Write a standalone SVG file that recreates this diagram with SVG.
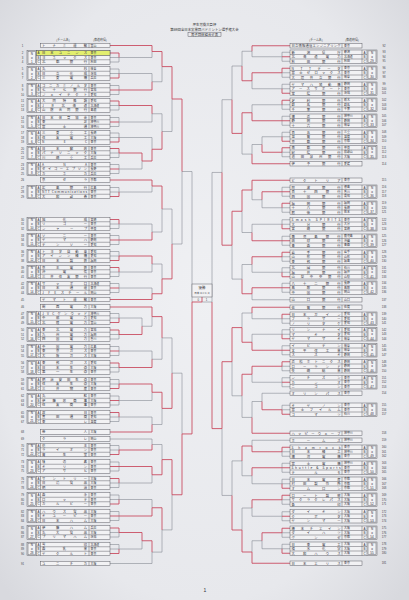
<svg xmlns="http://www.w3.org/2000/svg" xmlns:xlink="http://www.w3.org/1999/xlink" width="409" height="600" viewBox="0 0 409 600">
<defs>
<radialGradient id="paper" cx="50%" cy="48%" r="70%">
<stop offset="0" stop-color="#eff0f3"/><stop offset="0.75" stop-color="#e7e8ec"/><stop offset="1" stop-color="#d8d9de"/>
</radialGradient>
<style>
.b{fill:#f2f2f4;stroke:#4e4f57;stroke-width:.45}
.bl{fill:none;stroke:#4e4f57;stroke-width:.45}
.t{font-family:"Noto Sans CJK JP","Noto Sans",sans-serif;font-size:3.3px;fill:#33333d}
.p{font-family:"Noto Sans CJK JP",sans-serif;font-size:2.9px;fill:#33333d}
.n{font-family:"Liberation Sans",sans-serif;font-size:2.8px;fill:#45454d;text-anchor:middle}
.k{font-family:"Liberation Sans",sans-serif;font-size:3px;fill:#33333d;text-anchor:middle}
.h{font-family:"Noto Sans CJK JP",sans-serif;font-size:3.4px;fill:#333;text-anchor:middle}
.hs{font-family:"Noto Sans CJK JP",sans-serif;font-size:2.9px;fill:#444;text-anchor:middle}
.r{fill:none;stroke:#c7455a;stroke-width:.85}
.g{fill:none;stroke:#7d838c;stroke-width:.55}
</style>
<g id="lg">
<rect class="b" x="27" y="0" width="83" height="13.5"/>
<rect class="b" x="28" y="0.9" width="7.6" height="11.7"/>
<path class="bl" d="M36.5 0V13.5M40.5 0V13.5M36.5 4.5H110M36.5 9H110M89 0V13.5"/>
<text class="k" x="38.5" y="3.5">A</text><text class="k" x="38.5" y="8">B</text><text class="k" x="38.5" y="12.5">C</text>
<text class="k" x="31.8" y="4">N</text><text class="k" x="31.8" y="7.9">o</text>
</g>
<g id="ls"><rect class="b" x="40.5" y="0" width="69.5" height="4.5"/><path class="bl" d="M89 0V4.5"/></g>
<g id="rg">
<rect class="b" x="290" y="0" width="87" height="13.5"/>
<rect class="b" x="368" y="0.9" width="8" height="11.7"/>
<path class="bl" d="M362 0V13.5M367 0V13.5M290 4.5H367M290 9H367M342 0V13.5"/>
<text class="k" x="364.5" y="3.5">A</text><text class="k" x="364.5" y="8">B</text><text class="k" x="364.5" y="12.5">C</text>
<text class="k" x="372" y="4">N</text><text class="k" x="372" y="7.9">o</text>
</g>
<g id="rs"><rect class="b" x="290" y="0" width="72" height="4.5"/><path class="bl" d="M342 0V4.5"/></g>
<g id="lbA"><path class="g" d="M110 6.75H119M110 11.25H119V6.75"/><path class="r" d="M110 2.25H119V6.75"/></g>
<g id="lbB"><path class="g" d="M110 2.25H119V11.25H110"/><path class="r" d="M110 6.75H119"/></g>
<g id="lbC"><path class="g" d="M110 2.25H119V6.75M110 6.75H119"/><path class="r" d="M110 11.25H119V6.75"/></g>
<g id="rbA"><path class="g" d="M290 6.75H282M290 11.25H282V6.75"/><path class="r" d="M290 2.25H282V6.75"/></g>
<g id="rbB"><path class="g" d="M290 2.25H282V11.25H290"/><path class="r" d="M290 6.75H282"/></g>
<g id="rbC"><path class="g" d="M290 2.25H282V6.75M290 6.75H282"/><path class="r" d="M290 11.25H282V6.75"/></g>
</defs>
<rect x="0" y="0" width="409" height="600" fill="url(#paper)"/>

<g id="title">
<text class="h" x="204.5" y="25.5">厚生労働大臣杯</text>
<text class="h" x="204.5" y="30.5">第69回全日本実業団バドミントン選手権大会</text>
<rect class="bl" x="188" y="32.2" width="33" height="4.4"/>
<text class="h" x="204.5" y="35.6">男子団体組合せ表</text>
<text class="hs" x="63" y="40.5">(チーム名)</text><text class="hs" x="100" y="40.5">(都道府県)</text>
<text class="hs" x="316" y="40.5">(チーム名)</text><text class="hs" x="352" y="40.5">(都道府県)</text>
</g>

<g id="connectors">
<use href="#lbA" y="50.75"/><use href="#lbC" y="66.75"/><use href="#lbB" y="83.25"/><use href="#lbA" y="98.75"/><use href="#lbB" y="115.25"/><use href="#lbC" y="130.75"/><use href="#lbA" y="146.25"/><use href="#lbB" y="162.25"/><use href="#lbC" y="185.25"/><use href="#lbA" y="217.25"/><use href="#lbB" y="233.25"/><use href="#lbC" y="249.25"/><use href="#lbA" y="265.25"/><use href="#lbB" y="281.25"/><use href="#lbC" y="311.25"/><use href="#lbA" y="327.75"/><use href="#lbB" y="344.25"/><use href="#lbA" y="360.75"/><use href="#lbC" y="377.25"/><use href="#lbB" y="393.75"/><use href="#lbA" y="410.25"/><use href="#lbC" y="443.25"/><use href="#lbB" y="459.75"/><use href="#lbA" y="476.25"/><use href="#lbC" y="492.75"/><use href="#lbB" y="509.25"/><use href="#lbA" y="525.75"/><use href="#lbC" y="542.25"/>
<use href="#rbB" y="50"/><use href="#rbA" y="66"/><use href="#rbC" y="82"/><use href="#rbA" y="98"/><use href="#rbB" y="114"/><use href="#rbC" y="130"/><use href="#rbA" y="145.5"/><use href="#rbB" y="185"/><use href="#rbA" y="201"/><use href="#rbC" y="217.5"/><use href="#rbB" y="234"/><use href="#rbA" y="250"/><use href="#rbC" y="265.5"/><use href="#rbB" y="281"/><use href="#rbA" y="312"/><use href="#rbC" y="327.5"/><use href="#rbB" y="343.5"/><use href="#rbA" y="359.5"/><use href="#rbB" y="375.5"/><use href="#rbC" y="403"/><use href="#rbA" y="445"/><use href="#rbB" y="461"/><use href="#rbC" y="477"/><use href="#rbA" y="493"/><use href="#rbB" y="509.5"/><use href="#rbA" y="526"/><use href="#rbC" y="542"/>
<path class="g" d="M119 169H142V161M119 57.5H152V51.5M119 73.5H152V81.75M119 122H152V113.75M119 137.5H152V149.25M152 81.75H162V66.6M152 113.75H162V131.5M162 131.5H172V99M119 192H152V186M119 224H152V232M119 272H152V264M119 288H152V293.75M152 232H162V209M152 264H162V278.9M162 209H172V244M172 244H182V171.5M119 318H142V326.25M142 326.25H152V316.6M119 351H152V359.25M119 400.5H152V392.25M119 417H152V424.5M152 359.25H162V337.9M152 424.5H162V408.4M162 337.9H172V373.15M119 549H142V540.75M110 439H152V444.5M119 483H152V474.75M119 499.5H152V507.75M110 563.5H152V552.1M152 444.5H162V459.6M152 552.1H162V529.9M162 529.9H172V494.75M172 373.15H182V433.95M182 171.5H192V302"/>
<path class="g" d="M282 136.75H262V144.5M282 56.75H252V51.25M282 88.75H252V80.75M282 104.75H252V112.75M262 144.5H252V154.1M252 51.25H242V66M252 154.1H242V133.4M242 66H232V99.7M282 207.75H262V199.75M262 199.75H252V190M282 224.25H252V232.5M282 272.25H252V264.5M290 299.75H252V293.75M252 232.5H242V211.25M252 264.5H242V279.1M242 279.1H232V245.2M232 99.7H222V172.45M290 393.25H262V401.5M282 318.75H252V313M282 334.25H252V342.25M282 382.25H252V374.25M262 401.5H252V417.4M252 313H242V327.6M252 417.4H242V395.8M242 395.8H232V361.7M282 548.75H262V540.75M290 440.25H252V446M282 483.75H252V475.75M282 516.25H252V508M262 540.75H252V552M252 475.75H242V460.9M252 508H242V530M242 460.9H232V495.45M232 495.45H222V428.6M222 172.45H212V302M212 302H202"/>
<path class="r" d="M119 153H142V161M110 45.5H152V51.5M119 90H152V81.75M119 105.5H152V113.75M142 161H152V149.25M152 51.5H162V66.6M152 149.25H162V131.5M162 66.6H172V99M110 180H152V186M119 240H152V232M119 256H152V264M110 299.5H152V293.75M152 186H162V209M152 293.75H162V278.9M162 278.9H172V244M172 99H182V171.5M119 334.5H142V326.25M110 307H152V316.6M119 367.5H152V359.25M119 384H152V392.25M110 432H152V424.5M152 316.6H162V337.9M152 392.25H162V408.4M162 408.4H172V373.15M119 532.5H142V540.75M119 450H152V444.5M119 466.5H152V474.75M119 516H152V507.75M142 540.75H152V552.1M152 474.75H162V459.6M152 507.75H162V529.9M162 459.6H172V494.75M172 494.75H182V433.95M182 433.95H192V302M192 302H202V297"/>
<path class="r" d="M282 152.25H262V144.5M290 45.75H252V51.25M282 72.75H252V80.75M282 120.75H252V112.75M290 163.75H252V154.1M252 80.75H242V66M252 112.75H242V133.4M242 133.4H232V99.7M282 191.75H262V199.75M290 180.25H252V190M282 240.75H252V232.5M282 256.75H252V264.5M282 287.75H252V293.75M252 190H242V211.25M252 293.75H242V279.1M242 211.25H232V245.2M232 245.2H222V172.45M282 409.75H262V401.5M290 307.25H252V313M282 350.25H252V342.25M282 366.25H252V374.25M290 433.25H252V417.4M252 342.25H242V327.6M252 374.25H242V395.8M242 327.6H232V361.7M282 532.75H262V540.75M282 451.75H252V446M282 467.75H252V475.75M282 499.75H252V508M290 563.25H252V552M252 446H242V460.9M252 552H242V530M242 530H232V495.45M232 361.7H222V428.6M222 428.6H212V302"/>
</g>

<g id="champion">
<rect class="b" x="192" y="284" width="20" height="13"/>
<text class="h" x="202" y="288.6">優勝</text>
<text class="n" x="202" y="294" style="font-family:'Noto Sans CJK JP',sans-serif;font-size:2.6px">日本ユニシス</text>
<text class="n" x="198.3" y="300.6">0</text><text class="n" x="206.5" y="300.6">1</text>
</g>

<g id="left">
<g id="e1" transform="translate(0 43.25)"><use href="#ls"/><text class="n" x="22.5" y="3.4">1</text><text class="t" x="42" y="3.5" textLength="45">トナミ運輸</text><text class="p" x="90.5" y="3.4">富山</text></g>
<g id="g1" transform="translate(0 50.75)"><use href="#lg"/><rect x="36.5" y="0" width="73.5" height="4.5" fill="#e2ee6e" stroke="#4e4f57" stroke-width=".45"/><text class="k" x="31.8" y="12">1</text><text class="n"><tspan x="22.5" y="3.4">2</tspan><tspan x="22.5" y="7.9">3</tspan><tspan x="22.5" y="12.4">4</tspan></text><text class="k" x="38.5" y="3.5">A</text><text class="t" x="42" y="3.5" textLength="45">日本ユニシス</text><text class="t" x="42" y="8" textLength="45">ヨネックス</text><text class="t" x="42" y="12.5" textLength="45">北都銀行</text><text class="p"><tspan x="90.5" y="3.4">東京</tspan><tspan x="90.5" y="7.9">東京</tspan><tspan x="90.5" y="12.4">秋田</tspan></text></g>
<g id="g2" transform="translate(0 66.75)"><use href="#lg"/><text class="k" x="31.8" y="12">2</text><text class="n"><tspan x="22.5" y="3.4">5</tspan><tspan x="22.5" y="7.9">6</tspan><tspan x="22.5" y="12.4">7</tspan></text><text class="t" x="42" y="3.5" textLength="45">丸杉</text><text class="t" x="42" y="8" textLength="45">日立化成</text><text class="t" x="42" y="12.5" textLength="45">三菱電機</text><text class="p"><tspan x="90.5" y="3.4">岐阜</tspan><tspan x="90.5" y="7.9">茨城</tspan><tspan x="90.5" y="12.4">兵庫</tspan></text></g>
<g id="g3" transform="translate(0 83.25)"><use href="#lg"/><text class="k" x="31.8" y="12">3</text><text class="n"><tspan x="22.5" y="3.4">8</tspan><tspan x="22.5" y="7.9">9</tspan><tspan x="22.5" y="12.4">10</tspan></text><text class="t" x="42" y="3.5" textLength="45">コニカミノルタ</text><text class="t" x="42" y="8" textLength="45">七十七銀行</text><text class="t" x="42" y="12.5" textLength="45">ジェイテクト</text><text class="p"><tspan x="90.5" y="3.4">東京</tspan><tspan x="90.5" y="7.9">宮城</tspan><tspan x="90.5" y="12.4">愛知</tspan></text></g>
<g id="g4" transform="translate(0 98.75)"><use href="#lg"/><text class="k" x="31.8" y="12">4</text><text class="n"><tspan x="22.5" y="3.4">11</tspan><tspan x="22.5" y="7.9">12</tspan><tspan x="22.5" y="12.4">13</tspan></text><text class="t" x="42" y="3.5" textLength="45">大同特殊鋼</text><text class="t" x="42" y="8" textLength="45">JR北海道</text><text class="t" x="42" y="12.5" textLength="45">山陰合同銀行</text><text class="p"><tspan x="90.5" y="3.4">愛知</tspan><tspan x="90.5" y="7.9">北海道</tspan><tspan x="90.5" y="12.4">島根</tspan></text></g>
<g id="g5" transform="translate(0 115.25)"><use href="#lg"/><text class="k" x="31.8" y="12">5</text><text class="n"><tspan x="22.5" y="3.4">14</tspan><tspan x="22.5" y="7.9">15</tspan><tspan x="22.5" y="12.4">16</tspan></text><text class="t" x="42" y="3.5" textLength="45">日本体育協会</text><text class="t" x="42" y="8" textLength="45">東芝</text><text class="t" x="42" y="12.5" textLength="45">富士通</text><text class="p"><tspan x="90.5" y="3.4">東京</tspan><tspan x="90.5" y="7.9">神奈川</tspan><tspan x="90.5" y="12.4">神奈川</tspan></text></g>
<g id="g6" transform="translate(0 130.75)"><use href="#lg"/><text class="k" x="31.8" y="12">6</text><text class="n"><tspan x="22.5" y="3.4">17</tspan><tspan x="22.5" y="7.9">18</tspan><tspan x="22.5" y="12.4">19</tspan></text><text class="t" x="42" y="3.5" textLength="45">三菱重工</text><text class="t" x="42" y="8" textLength="45">住友電工</text><text class="t" x="42" y="12.5" textLength="45">NEC</text><text class="p"><tspan x="90.5" y="3.4">長崎</tspan><tspan x="90.5" y="7.9">大阪</tspan><tspan x="90.5" y="12.4">東京</tspan></text></g>
<g id="g7" transform="translate(0 146.25)"><use href="#lg"/><text class="k" x="31.8" y="12">7</text><text class="n"><tspan x="22.5" y="3.4">20</tspan><tspan x="22.5" y="7.9">21</tspan><tspan x="22.5" y="12.4">22</tspan></text><text class="t" x="42" y="3.5" textLength="45">日本郵政</text><text class="t" x="42" y="8" textLength="45">パナソニック</text><text class="t" x="42" y="12.5" textLength="45">川崎重工</text><text class="p"><tspan x="90.5" y="3.4">東京</tspan><tspan x="90.5" y="7.9">大阪</tspan><tspan x="90.5" y="12.4">兵庫</tspan></text></g>
<g id="g8" transform="translate(0 162.25)"><use href="#lg"/><text class="k" x="31.8" y="12">8</text><text class="n"><tspan x="22.5" y="3.4">23</tspan><tspan x="22.5" y="7.9">24</tspan><tspan x="22.5" y="12.4">25</tspan></text><text class="t" x="42" y="3.5" textLength="45">ANA</text><text class="t" x="42" y="8" textLength="45">セイコーエプソン</text><text class="t" x="42" y="12.5" textLength="45">カネカ</text><text class="p"><tspan x="90.5" y="3.4">東京</tspan><tspan x="90.5" y="7.9">長野</tspan><tspan x="90.5" y="12.4">兵庫</tspan></text></g>
<g id="e26" transform="translate(0 177.75)"><use href="#ls"/><text class="n" x="22.5" y="3.4">26</text><text class="t" x="42" y="3.5" textLength="45">京セラ</text><text class="p" x="90.5" y="3.4">京都</text></g>
<g id="g9" transform="translate(0 185.25)"><use href="#lg"/><text class="k" x="31.8" y="12">9</text><text class="n"><tspan x="22.5" y="3.4">27</tspan><tspan x="22.5" y="7.9">28</tspan><tspan x="22.5" y="12.4">29</tspan></text><text class="t" x="42" y="3.5" textLength="45">広島銀行</text><text class="t" x="42" y="8" textLength="45">NTT Communications</text><text class="t" x="42" y="12.5" textLength="45">大和証券</text><text class="p"><tspan x="90.5" y="3.4">広島</tspan><tspan x="90.5" y="7.9">東京</tspan><tspan x="90.5" y="12.4">東京</tspan></text></g>
<g id="g10" transform="translate(0 217.25)"><use href="#lg"/><text class="k" x="31.8" y="12">10</text><text class="n"><tspan x="22.5" y="3.4">30</tspan><tspan x="22.5" y="7.9">31</tspan><tspan x="22.5" y="12.4">32</tspan></text><text class="t" x="42" y="3.5" textLength="45">旭化成</text><text class="t" x="42" y="8" textLength="45">リコー</text><text class="t" x="42" y="12.5" textLength="45">シャープ</text><text class="p"><tspan x="90.5" y="3.4">宮崎</tspan><tspan x="90.5" y="7.9">東京</tspan><tspan x="90.5" y="12.4">奈良</tspan></text></g>
<g id="g11" transform="translate(0 233.25)"><use href="#lg"/><text class="k" x="31.8" y="12">11</text><text class="n"><tspan x="22.5" y="3.4">33</tspan><tspan x="22.5" y="7.9">34</tspan><tspan x="22.5" y="12.4">35</tspan></text><text class="t" x="42" y="3.5" textLength="45">ソニー</text><text class="t" x="42" y="8" textLength="45">ヤマハ</text><text class="t" x="42" y="12.5" textLength="45">デンソー</text><text class="p"><tspan x="90.5" y="3.4">東京</tspan><tspan x="90.5" y="7.9">静岡</tspan><tspan x="90.5" y="12.4">愛知</tspan></text></g>
<g id="g12" transform="translate(0 249.25)"><use href="#lg"/><text class="k" x="31.8" y="12">12</text><text class="n"><tspan x="22.5" y="3.4">36</tspan><tspan x="22.5" y="7.9">37</tspan><tspan x="22.5" y="12.4">38</tspan></text><text class="t" x="42" y="3.5" textLength="45">トヨタ自動車</text><text class="t" x="42" y="8" textLength="45">アイシン精機</text><text class="t" x="42" y="12.5" textLength="45">日本製鉄</text><text class="p"><tspan x="90.5" y="3.4">愛知</tspan><tspan x="90.5" y="7.9">愛知</tspan><tspan x="90.5" y="12.4">福岡</tspan></text></g>
<g id="g13" transform="translate(0 265.25)"><use href="#lg"/><text class="k" x="31.8" y="12">13</text><text class="n"><tspan x="22.5" y="3.4">39</tspan><tspan x="22.5" y="7.9">40</tspan><tspan x="22.5" y="12.4">41</tspan></text><text class="t" x="42" y="3.5" textLength="45">京王電鉄</text><text class="t" x="42" y="8" textLength="45">沖電気</text><text class="t" x="42" y="12.5" textLength="45">三井住友銀行</text><text class="p"><tspan x="90.5" y="3.4">東京</tspan><tspan x="90.5" y="7.9">東京</tspan><tspan x="90.5" y="12.4">東京</tspan></text></g>
<g id="g14" transform="translate(0 281.25)"><use href="#lg"/><text class="k" x="31.8" y="12">14</text><text class="n"><tspan x="22.5" y="3.4">42</tspan><tspan x="22.5" y="7.9">43</tspan><tspan x="22.5" y="12.4">44</tspan></text><text class="t" x="42" y="3.5" textLength="45">サッポロ</text><text class="t" x="42" y="8" textLength="45">日本通運</text><text class="t" x="42" y="12.5" textLength="45">JFEスチール</text><text class="p"><tspan x="90.5" y="3.4">北海道</tspan><tspan x="90.5" y="7.9">東京</tspan><tspan x="90.5" y="12.4">岡山</tspan></text></g>
<g id="e45" transform="translate(0 297.25)"><use href="#ls"/><text class="n" x="22.5" y="3.4">45</text><text class="t" x="42" y="3.5" textLength="45">ヤマト運輸</text><text class="p" x="90.5" y="3.4">東京</text></g>
<g id="e46" transform="translate(0 304.75)"><use href="#ls"/><text class="n" x="22.5" y="3.4">46</text><text class="t" x="42" y="3.5" textLength="45">関西電力</text><text class="p" x="90.5" y="3.4">大阪</text></g>
<g id="g15" transform="translate(0 311.25)"><use href="#lg"/><text class="k" x="31.8" y="12">15</text><text class="n"><tspan x="22.5" y="3.4">47</tspan><tspan x="22.5" y="7.9">48</tspan><tspan x="22.5" y="12.4">49</tspan></text><text class="t" x="42" y="3.5" textLength="45">JVCケンウッド</text><text class="t" x="42" y="8" textLength="45">中部電力</text><text class="t" x="42" y="12.5" textLength="45">北陸電力</text><text class="p"><tspan x="90.5" y="3.4">神奈川</tspan><tspan x="90.5" y="7.9">愛知</tspan><tspan x="90.5" y="12.4">富山</tspan></text></g>
<g id="g16" transform="translate(0 327.75)"><use href="#lg"/><text class="k" x="31.8" y="12">16</text><text class="n"><tspan x="22.5" y="3.4">50</tspan><tspan x="22.5" y="7.9">51</tspan><tspan x="22.5" y="12.4">52</tspan></text><text class="t" x="42" y="3.5" textLength="45">東北電力</text><text class="t" x="42" y="8" textLength="45">九州電力</text><text class="t" x="42" y="12.5" textLength="45">四国電力</text><text class="p"><tspan x="90.5" y="3.4">宮城</tspan><tspan x="90.5" y="7.9">福岡</tspan><tspan x="90.5" y="12.4">香川</tspan></text></g>
<g id="g17" transform="translate(0 344.25)"><use href="#lg"/><text class="k" x="31.8" y="12">17</text><text class="n"><tspan x="22.5" y="3.4">53</tspan><tspan x="22.5" y="7.9">54</tspan><tspan x="22.5" y="12.4">55</tspan></text><text class="t" x="42" y="3.5" textLength="45">中国電力</text><text class="t" x="42" y="8" textLength="45">東京ガス</text><text class="t" x="42" y="12.5" textLength="45">大阪ガス</text><text class="p"><tspan x="90.5" y="3.4">広島</tspan><tspan x="90.5" y="7.9">東京</tspan><tspan x="90.5" y="12.4">大阪</tspan></text></g>
<g id="g18" transform="translate(0 360.75)"><use href="#lg"/><text class="k" x="31.8" y="12">18</text><text class="n"><tspan x="22.5" y="3.4">56</tspan><tspan x="22.5" y="7.9">57</tspan><tspan x="22.5" y="12.4">58</tspan></text><text class="t" x="42" y="3.5" textLength="45">東邦ガス</text><text class="t" x="42" y="8" textLength="45">日本生命</text><text class="t" x="42" y="12.5" textLength="45">第一生命</text><text class="p"><tspan x="90.5" y="3.4">愛知</tspan><tspan x="90.5" y="7.9">大阪</tspan><tspan x="90.5" y="12.4">東京</tspan></text></g>
<g id="g19" transform="translate(0 377.25)"><use href="#lg"/><text class="k" x="31.8" y="12">19</text><text class="n"><tspan x="22.5" y="3.4">59</tspan><tspan x="22.5" y="7.9">60</tspan><tspan x="22.5" y="12.4">61</tspan></text><text class="t" x="42" y="3.5" textLength="45">明治安田生命</text><text class="t" x="42" y="8" textLength="45">住友生命</text><text class="t" x="42" y="12.5" textLength="45">三井物産</text><text class="p"><tspan x="90.5" y="3.4">東京</tspan><tspan x="90.5" y="7.9">大阪</tspan><tspan x="90.5" y="12.4">東京</tspan></text></g>
<g id="g20" transform="translate(0 393.75)"><use href="#lg"/><text class="k" x="31.8" y="12">20</text><text class="n"><tspan x="22.5" y="3.4">62</tspan><tspan x="22.5" y="7.9">63</tspan><tspan x="22.5" y="12.4">64</tspan></text><text class="t" x="42" y="3.5" textLength="45">丸紅</text><text class="t" x="42" y="8" textLength="45">伊藤忠商事</text><text class="t" x="42" y="12.5" textLength="45">住友商事</text><text class="p"><tspan x="90.5" y="3.4">東京</tspan><tspan x="90.5" y="7.9">大阪</tspan><tspan x="90.5" y="12.4">東京</tspan></text></g>
<g id="g21" transform="translate(0 410.25)"><use href="#lg"/><text class="k" x="31.8" y="12">21</text><text class="n"><tspan x="22.5" y="3.4">65</tspan><tspan x="22.5" y="7.9">66</tspan><tspan x="22.5" y="12.4">67</tspan></text><text class="t" x="42" y="3.5" textLength="45">双日</text><text class="t" x="42" y="8" textLength="45">豊田通商</text><text class="t" x="42" y="12.5" textLength="45">東レ</text><text class="p"><tspan x="90.5" y="3.4">東京</tspan><tspan x="90.5" y="7.9">愛知</tspan><tspan x="90.5" y="12.4">滋賀</tspan></text></g>
<g id="e68" transform="translate(0 429.75)"><use href="#ls"/><text class="n" x="22.5" y="3.4">68</text><text class="t" x="42" y="3.5" textLength="45">帝人</text><text class="p" x="90.5" y="3.4">大阪</text></g>
<g id="e69" transform="translate(0 436.75)"><use href="#ls"/><text class="n" x="22.5" y="3.4">69</text><text class="t" x="42" y="3.5" textLength="45">クラレ</text><text class="p" x="90.5" y="3.4">岡山</text></g>
<g id="g22" transform="translate(0 443.25)"><use href="#lg"/><text class="k" x="31.8" y="12">22</text><text class="n"><tspan x="22.5" y="3.4">70</tspan><tspan x="22.5" y="7.9">71</tspan><tspan x="22.5" y="12.4">72</tspan></text><text class="t" x="42" y="3.5" textLength="45">花王</text><text class="t" x="42" y="8" textLength="45">ライオン</text><text class="t" x="42" y="12.5" textLength="45">資生堂</text><text class="p"><tspan x="90.5" y="3.4">東京</tspan><tspan x="90.5" y="7.9">東京</tspan><tspan x="90.5" y="12.4">東京</tspan></text></g>
<g id="g23" transform="translate(0 459.75)"><use href="#lg"/><text class="k" x="31.8" y="12">23</text><text class="n"><tspan x="22.5" y="3.4">73</tspan><tspan x="22.5" y="7.9">74</tspan><tspan x="22.5" y="12.4">75</tspan></text><text class="t" x="42" y="3.5" textLength="45">味の素</text><text class="t" x="42" y="8" textLength="45">キリン</text><text class="t" x="42" y="12.5" textLength="45">アサヒ</text><text class="p"><tspan x="90.5" y="3.4">東京</tspan><tspan x="90.5" y="7.9">東京</tspan><tspan x="90.5" y="12.4">東京</tspan></text></g>
<g id="g24" transform="translate(0 476.25)"><use href="#lg"/><text class="k" x="31.8" y="12">24</text><text class="n"><tspan x="22.5" y="3.4">76</tspan><tspan x="22.5" y="7.9">77</tspan><tspan x="22.5" y="12.4">78</tspan></text><text class="t" x="42" y="3.5" textLength="45">サントリー</text><text class="t" x="42" y="8" textLength="45">日清食品</text><text class="t" x="42" y="12.5" textLength="45">明治</text><text class="p"><tspan x="90.5" y="3.4">大阪</tspan><tspan x="90.5" y="7.9">大阪</tspan><tspan x="90.5" y="12.4">東京</tspan></text></g>
<g id="g25" transform="translate(0 492.75)"><use href="#lg"/><text class="k" x="31.8" y="12">25</text><text class="n"><tspan x="22.5" y="3.4">79</tspan><tspan x="22.5" y="7.9">80</tspan><tspan x="22.5" y="12.4">81</tspan></text><text class="t" x="42" y="3.5" textLength="45">森永</text><text class="t" x="42" y="8" textLength="45">ロッテ</text><text class="t" x="42" y="12.5" textLength="45">カルビー</text><text class="p"><tspan x="90.5" y="3.4">東京</tspan><tspan x="90.5" y="7.9">東京</tspan><tspan x="90.5" y="12.4">東京</tspan></text></g>
<g id="g26" transform="translate(0 509.25)"><use href="#lg"/><text class="k" x="31.8" y="12">26</text><text class="n"><tspan x="22.5" y="3.4">82</tspan><tspan x="22.5" y="7.9">83</tspan><tspan x="22.5" y="12.4">84</tspan></text><text class="t" x="42" y="3.5" textLength="45">ハウス食品</text><text class="t" x="42" y="8" textLength="45">キユーピー</text><text class="t" x="42" y="12.5" textLength="45">日本ハム</text><text class="p"><tspan x="90.5" y="3.4">大阪</tspan><tspan x="90.5" y="7.9">東京</tspan><tspan x="90.5" y="12.4">大阪</tspan></text></g>
<g id="g27" transform="translate(0 525.75)"><use href="#lg"/><text class="k" x="31.8" y="12">27</text><text class="n"><tspan x="22.5" y="3.4">85</tspan><tspan x="22.5" y="7.9">86</tspan><tspan x="22.5" y="12.4">87</tspan></text><text class="t" x="42" y="3.5" textLength="45">伊藤ハム</text><text class="t" x="42" y="8" textLength="45">丸大食品</text><text class="t" x="42" y="12.5" textLength="45">プリマハム</text><text class="p"><tspan x="90.5" y="3.4">兵庫</tspan><tspan x="90.5" y="7.9">大阪</tspan><tspan x="90.5" y="12.4">茨城</tspan></text></g>
<g id="g28" transform="translate(0 542.25)"><use href="#lg"/><text class="k" x="31.8" y="12">28</text><text class="n"><tspan x="22.5" y="3.4">88</tspan><tspan x="22.5" y="7.9">89</tspan><tspan x="22.5" y="12.4">90</tspan></text><text class="t" x="42" y="3.5" textLength="45">雪印</text><text class="t" x="42" y="8" textLength="45">森乳業</text><text class="t" x="42" y="12.5" textLength="45">ヤクルト</text><text class="p"><tspan x="90.5" y="3.4">北海道</tspan><tspan x="90.5" y="7.9">東京</tspan><tspan x="90.5" y="12.4">東京</tspan></text></g>
<g id="e91" transform="translate(0 561.25)"><use href="#ls"/><text class="n" x="22.5" y="3.4">91</text><text class="t" x="42" y="3.5" textLength="45">ユニチカ</text><text class="p" x="90.5" y="3.4">大阪</text></g>
</g>

<g id="right">
<g id="e92" transform="translate(0 43.5)"><use href="#rs"/><text class="n" x="384" y="3.4">92</text><text class="t" x="291.5" y="3.5" textLength="49">日立情報通信エンジニアリング</text><text class="p" x="344" y="3.4">東京</text></g>
<g id="g29" transform="translate(0 50)"><use href="#rg"/><text class="k" x="372" y="12">29</text><text class="n"><tspan x="384" y="3.4">93</tspan><tspan x="384" y="7.9">94</tspan><tspan x="384" y="12.4">95</tspan></text><text class="t" x="291.5" y="3.5" textLength="49">新潟県庁</text><text class="t" x="291.5" y="8" textLength="49">北海道電力</text><text class="t" x="291.5" y="12.5" textLength="49">秋田銀行</text><text class="p"><tspan x="344" y="3.4">新潟</tspan><tspan x="344" y="7.9">北海道</tspan><tspan x="344" y="12.4">秋田</tspan></text></g>
<g id="g30" transform="translate(0 66)"><use href="#rg"/><text class="k" x="372" y="12">30</text><text class="n"><tspan x="384" y="3.4">96</tspan><tspan x="384" y="7.9">97</tspan><tspan x="384" y="12.4">98</tspan></text><text class="t" x="291.5" y="3.5" textLength="49">NTTデータ</text><text class="t" x="291.5" y="8" textLength="49">富士ゼロックス</text><text class="t" x="291.5" y="12.5" textLength="49">大垣共立銀行</text><text class="p"><tspan x="344" y="3.4">東京</tspan><tspan x="344" y="7.9">東京</tspan><tspan x="344" y="12.4">岐阜</tspan></text></g>
<g id="g31" transform="translate(0 82)"><use href="#rg"/><text class="k" x="372" y="12">31</text><text class="n"><tspan x="384" y="3.4">99</tspan><tspan x="384" y="7.9">100</tspan><tspan x="384" y="12.4">101</tspan></text><text class="t" x="291.5" y="3.5" textLength="49">ヤマハ発動機</text><text class="t" x="291.5" y="8" textLength="49">アースサポート</text><text class="t" x="291.5" y="12.5" textLength="49">常陽銀行</text><text class="p"><tspan x="344" y="3.4">静岡</tspan><tspan x="344" y="7.9">東京</tspan><tspan x="344" y="12.4">茨城</tspan></text></g>
<g id="g32" transform="translate(0 98)"><use href="#rg"/><text class="k" x="372" y="12">32</text><text class="n"><tspan x="384" y="3.4">102</tspan><tspan x="384" y="7.9">103</tspan><tspan x="384" y="12.4">104</tspan></text><text class="t" x="291.5" y="3.5" textLength="49">足利銀行</text><text class="t" x="291.5" y="8" textLength="49">群馬銀行</text><text class="t" x="291.5" y="12.5" textLength="49">千葉銀行</text><text class="p"><tspan x="344" y="3.4">栃木</tspan><tspan x="344" y="7.9">群馬</tspan><tspan x="344" y="12.4">千葉</tspan></text></g>
<g id="g33" transform="translate(0 114)"><use href="#rg"/><text class="k" x="372" y="12">33</text><text class="n"><tspan x="384" y="3.4">105</tspan><tspan x="384" y="7.9">106</tspan><tspan x="384" y="12.4">107</tspan></text><text class="t" x="291.5" y="3.5" textLength="49">横浜銀行</text><text class="t" x="291.5" y="8" textLength="49">静岡銀行</text><text class="t" x="291.5" y="12.5" textLength="49">十六銀行</text><text class="p"><tspan x="344" y="3.4">神奈川</tspan><tspan x="344" y="7.9">静岡</tspan><tspan x="344" y="12.4">岐阜</tspan></text></g>
<g id="g34" transform="translate(0 130)"><use href="#rg"/><text class="k" x="372" y="12">34</text><text class="n"><tspan x="384" y="3.4">108</tspan><tspan x="384" y="7.9">109</tspan><tspan x="384" y="12.4">110</tspan></text><text class="t" x="291.5" y="3.5" textLength="49">百五銀行</text><text class="t" x="291.5" y="8" textLength="49">滋賀銀行</text><text class="t" x="291.5" y="12.5" textLength="49">京都銀行</text><text class="p"><tspan x="344" y="3.4">三重</tspan><tspan x="344" y="7.9">滋賀</tspan><tspan x="344" y="12.4">京都</tspan></text></g>
<g id="g35" transform="translate(0 145.5)"><use href="#rg"/><text class="k" x="372" y="12">35</text><text class="n"><tspan x="384" y="3.4">111</tspan><tspan x="384" y="7.9">112</tspan><tspan x="384" y="12.4">113</tspan></text><text class="t" x="291.5" y="3.5" textLength="49">南都銀行</text><text class="t" x="291.5" y="8" textLength="49">紀陽銀行</text><text class="t" x="291.5" y="12.5" textLength="49">池田泉州銀行</text><text class="p"><tspan x="344" y="3.4">奈良</tspan><tspan x="344" y="7.9">和歌山</tspan><tspan x="344" y="12.4">大阪</tspan></text></g>
<g id="e114" transform="translate(0 161.5)"><use href="#rs"/><text class="n" x="384" y="3.4">114</text><text class="t" x="291.5" y="3.5" textLength="49">伊予銀行</text><text class="p" x="344" y="3.4">愛媛</text></g>
<g id="e115" transform="translate(0 178)"><use href="#rs"/><text class="n" x="384" y="3.4">115</text><text class="t" x="291.5" y="3.5" textLength="49">ビクトリア</text><text class="p" x="344" y="3.4">東京</text></g>
<g id="g36" transform="translate(0 185)"><use href="#rg"/><text class="k" x="372" y="12">36</text><text class="n"><tspan x="384" y="3.4">116</tspan><tspan x="384" y="7.9">117</tspan><tspan x="384" y="12.4">118</tspan></text><text class="t" x="291.5" y="3.5" textLength="49">阿波銀行</text><text class="t" x="291.5" y="8" textLength="49">百十四銀行</text><text class="t" x="291.5" y="12.5" textLength="49">四国銀行</text><text class="p"><tspan x="344" y="3.4">徳島</tspan><tspan x="344" y="7.9">香川</tspan><tspan x="344" y="12.4">高知</tspan></text></g>
<g id="g37" transform="translate(0 201)"><use href="#rg"/><text class="k" x="372" y="12">37</text><text class="n"><tspan x="384" y="3.4">119</tspan><tspan x="384" y="7.9">120</tspan><tspan x="384" y="12.4">121</tspan></text><text class="t" x="291.5" y="3.5" textLength="49">福岡銀行</text><text class="t" x="291.5" y="8" textLength="49">十八銀行</text><text class="t" x="291.5" y="12.5" textLength="49">肥後銀行</text><text class="p"><tspan x="344" y="3.4">福岡</tspan><tspan x="344" y="7.9">長崎</tspan><tspan x="344" y="12.4">熊本</tspan></text></g>
<g id="g38" transform="translate(0 217.5)"><use href="#rg"/><text class="k" x="372" y="12">38</text><text class="n"><tspan x="384" y="3.4">122</tspan><tspan x="384" y="7.9">123</tspan><tspan x="384" y="12.4">124</tspan></text><text class="t" x="291.5" y="3.5" textLength="49">Smash SPIRITS</text><text class="t" x="291.5" y="8" textLength="49">大分銀行</text><text class="t" x="291.5" y="12.5" textLength="49">宮崎銀行</text><text class="p"><tspan x="344" y="3.4">東京</tspan><tspan x="344" y="7.9">大分</tspan><tspan x="344" y="12.4">宮崎</tspan></text></g>
<g id="g39" transform="translate(0 234)"><use href="#rg"/><text class="k" x="372" y="12">39</text><text class="n"><tspan x="384" y="3.4">125</tspan><tspan x="384" y="7.9">126</tspan><tspan x="384" y="12.4">127</tspan></text><text class="t" x="291.5" y="3.5" textLength="49">鹿児島銀行</text><text class="t" x="291.5" y="8" textLength="49">琉球銀行</text><text class="t" x="291.5" y="12.5" textLength="49">青森銀行</text><text class="p"><tspan x="344" y="3.4">鹿児島</tspan><tspan x="344" y="7.9">沖縄</tspan><tspan x="344" y="12.4">青森</tspan></text></g>
<g id="g40" transform="translate(0 250)"><use href="#rg"/><text class="k" x="372" y="12">40</text><text class="n"><tspan x="384" y="3.4">128</tspan><tspan x="384" y="7.9">129</tspan><tspan x="384" y="12.4">130</tspan></text><text class="t" x="291.5" y="3.5" textLength="49">岩手銀行</text><text class="t" x="291.5" y="8" textLength="49">山形銀行</text><text class="t" x="291.5" y="12.5" textLength="49">東邦銀行</text><text class="p"><tspan x="344" y="3.4">岩手</tspan><tspan x="344" y="7.9">山形</tspan><tspan x="344" y="12.4">福島</tspan></text></g>
<g id="g41" transform="translate(0 265.5)"><use href="#rg"/><text class="k" x="372" y="12">41</text><text class="n"><tspan x="384" y="3.4">131</tspan><tspan x="384" y="7.9">132</tspan><tspan x="384" y="12.4">133</tspan></text><text class="t" x="291.5" y="3.5" textLength="49">北國銀行</text><text class="t" x="291.5" y="8" textLength="49">福井銀行</text><text class="t" x="291.5" y="12.5" textLength="49">山梨中央銀行</text><text class="p"><tspan x="344" y="3.4">石川</tspan><tspan x="344" y="7.9">福井</tspan><tspan x="344" y="12.4">山梨</tspan></text></g>
<g id="g42" transform="translate(0 281)"><use href="#rg"/><text class="k" x="372" y="12">42</text><text class="n"><tspan x="384" y="3.4">134</tspan><tspan x="384" y="7.9">135</tspan><tspan x="384" y="12.4">136</tspan></text><text class="t" x="291.5" y="3.5" textLength="49">八十二銀行</text><text class="t" x="291.5" y="8" textLength="49">鳥取銀行</text><text class="t" x="291.5" y="12.5" textLength="49">中国銀行</text><text class="p"><tspan x="344" y="3.4">長野</tspan><tspan x="344" y="7.9">鳥取</tspan><tspan x="344" y="12.4">岡山</tspan></text></g>
<g id="e137" transform="translate(0 297.5)"><use href="#rs"/><text class="n" x="384" y="3.4">137</text><text class="t" x="291.5" y="3.5" textLength="49">山口銀行</text><text class="p" x="344" y="3.4">山口</text></g>
<g id="e138" transform="translate(0 305)"><use href="#rs"/><text class="n" x="384" y="3.4">138</text><text class="t" x="291.5" y="3.5" textLength="49">佐賀銀行</text><text class="p" x="344" y="3.4">佐賀</text></g>
<g id="g43" transform="translate(0 312)"><use href="#rg"/><text class="k" x="372" y="12">43</text><text class="n"><tspan x="384" y="3.4">139</tspan><tspan x="384" y="7.9">140</tspan><tspan x="384" y="12.4">141</tspan></text><text class="t" x="291.5" y="3.5" textLength="49">日本ガイシ</text><text class="t" x="291.5" y="8" textLength="49">ブラザー</text><text class="t" x="291.5" y="12.5" textLength="49">ノリタケ</text><text class="p"><tspan x="344" y="3.4">愛知</tspan><tspan x="344" y="7.9">愛知</tspan><tspan x="344" y="12.4">愛知</tspan></text></g>
<g id="g44" transform="translate(0 327.5)"><use href="#rg"/><text class="k" x="372" y="12">44</text><text class="n"><tspan x="384" y="3.4">142</tspan><tspan x="384" y="7.9">143</tspan><tspan x="384" y="12.4">144</tspan></text><text class="t" x="291.5" y="3.5" textLength="49">リンナイ</text><text class="t" x="291.5" y="8" textLength="49">マキタ</text><text class="t" x="291.5" y="12.5" textLength="49">ヤマザキ</text><text class="p"><tspan x="344" y="3.4">愛知</tspan><tspan x="344" y="7.9">愛知</tspan><tspan x="344" y="12.4">岐阜</tspan></text></g>
<g id="g45" transform="translate(0 343.5)"><use href="#rg"/><text class="k" x="372" y="12">45</text><text class="n"><tspan x="384" y="3.4">145</tspan><tspan x="384" y="7.9">146</tspan><tspan x="384" y="12.4">147</tspan></text><text class="t" x="291.5" y="3.5" textLength="49">イビデン</text><text class="t" x="291.5" y="8" textLength="49">太平洋工業</text><text class="t" x="291.5" y="12.5" textLength="49">スズキ</text><text class="p"><tspan x="344" y="3.4">岐阜</tspan><tspan x="344" y="7.9">岐阜</tspan><tspan x="344" y="12.4">静岡</tspan></text></g>
<g id="g46" transform="translate(0 359.5)"><use href="#rg"/><text class="k" x="372" y="12">46</text><text class="n"><tspan x="384" y="3.4">148</tspan><tspan x="384" y="7.9">149</tspan><tspan x="384" y="12.4">150</tspan></text><text class="t" x="291.5" y="3.5" textLength="49">浜松ホトニクス</text><text class="t" x="291.5" y="8" textLength="49">ローランド</text><text class="t" x="291.5" y="12.5" textLength="49">矢崎総業</text><text class="p"><tspan x="344" y="3.4">静岡</tspan><tspan x="344" y="7.9">静岡</tspan><tspan x="344" y="12.4">静岡</tspan></text></g>
<g id="g47" transform="translate(0 375.5)"><use href="#rg"/><text class="k" x="372" y="12">47</text><text class="n"><tspan x="384" y="3.4">151</tspan><tspan x="384" y="7.9">152</tspan><tspan x="384" y="12.4">153</tspan></text><text class="t" x="291.5" y="3.5" textLength="49">シチズン</text><text class="t" x="291.5" y="8" textLength="49">カシオ</text><text class="t" x="291.5" y="12.5" textLength="49">ニコン</text><text class="p"><tspan x="344" y="3.4">東京</tspan><tspan x="344" y="7.9">東京</tspan><tspan x="344" y="12.4">東京</tspan></text></g>
<g id="e154" transform="translate(0 391)"><use href="#rs"/><text class="n" x="384" y="3.4">154</text><text class="t" x="291.5" y="3.5" textLength="49">オリンパス</text><text class="p" x="344" y="3.4">東京</text></g>
<g id="g48" transform="translate(0 403)"><use href="#rg"/><text class="k" x="372" y="12">48</text><text class="n"><tspan x="384" y="3.4">155</tspan><tspan x="384" y="7.9">156</tspan><tspan x="384" y="12.4">157</tspan></text><text class="t" x="291.5" y="3.5" textLength="49">キヤノン</text><text class="t" x="291.5" y="8" textLength="49">富士フイルム</text><text class="t" x="291.5" y="12.5" textLength="49">コマツ</text><text class="p"><tspan x="344" y="3.4">東京</tspan><tspan x="344" y="7.9">東京</tspan><tspan x="344" y="12.4">石川</tspan></text></g>
<g id="e158" transform="translate(0 431)"><use href="#rs"/><text class="n" x="384" y="3.4">158</text><text class="t" x="291.5" y="3.5" textLength="49">ハッピーウェーブ</text><text class="p" x="344" y="3.4">神奈川</text></g>
<g id="e159" transform="translate(0 438)"><use href="#rs"/><text class="n" x="384" y="3.4">159</text><text class="t" x="291.5" y="3.5" textLength="49">ホームズ</text><text class="p" x="344" y="3.4">神奈川</text></g>
<g id="g49" transform="translate(0 445)"><use href="#rg"/><text class="k" x="372" y="12">49</text><text class="n"><tspan x="384" y="3.4">160</tspan><tspan x="384" y="7.9">161</tspan><tspan x="384" y="12.4">162</tspan></text><text class="t" x="291.5" y="3.5" textLength="49">Shamrock</text><text class="t" x="291.5" y="8" textLength="49">日本精工</text><text class="t" x="291.5" y="12.5" textLength="49">横河電機</text><text class="p"><tspan x="344" y="3.4">東京</tspan><tspan x="344" y="7.9">神奈川</tspan><tspan x="344" y="12.4">東京</tspan></text></g>
<g id="g50" transform="translate(0 461)"><use href="#rg"/><text class="k" x="372" y="12">50</text><text class="n"><tspan x="384" y="3.4">163</tspan><tspan x="384" y="7.9">164</tspan><tspan x="384" y="12.4">165</tspan></text><text class="t" x="291.5" y="3.5" textLength="49">富士電機</text><text class="t" x="291.5" y="8" textLength="49">Shuttle &amp; Sports</text><text class="t" x="291.5" y="12.5" textLength="49">テルモ</text><text class="p"><tspan x="344" y="3.4">神奈川</tspan><tspan x="344" y="7.9">東京</tspan><tspan x="344" y="12.4">東京</tspan></text></g>
<g id="g51" transform="translate(0 477)"><use href="#rg"/><text class="k" x="372" y="12">51</text><text class="n"><tspan x="384" y="3.4">166</tspan><tspan x="384" y="7.9">167</tspan><tspan x="384" y="12.4">168</tspan></text><text class="t" x="291.5" y="3.5" textLength="49">日本電産</text><text class="t" x="291.5" y="8" textLength="49">村田製作所</text><text class="t" x="291.5" y="12.5" textLength="49">オムロン</text><text class="p"><tspan x="344" y="3.4">京都</tspan><tspan x="344" y="7.9">京都</tspan><tspan x="344" y="12.4">京都</tspan></text></g>
<g id="g52" transform="translate(0 493)"><use href="#rg"/><text class="k" x="372" y="12">52</text><text class="n"><tspan x="384" y="3.4">169</tspan><tspan x="384" y="7.9">170</tspan><tspan x="384" y="12.4">171</tspan></text><text class="t" x="291.5" y="3.5" textLength="49">ロート製薬</text><text class="t" x="291.5" y="8" textLength="49">サクラクレパス</text><text class="t" x="291.5" y="12.5" textLength="49">象印</text><text class="p"><tspan x="344" y="3.4">大阪</tspan><tspan x="344" y="7.9">大阪</tspan><tspan x="344" y="12.4">大阪</tspan></text></g>
<g id="g53" transform="translate(0 509.5)"><use href="#rg"/><text class="k" x="372" y="12">53</text><text class="n"><tspan x="384" y="3.4">172</tspan><tspan x="384" y="7.9">173</tspan><tspan x="384" y="12.4">174</tspan></text><text class="t" x="291.5" y="3.5" textLength="49">ダイキン</text><text class="t" x="291.5" y="8" textLength="49">クボタ</text><text class="t" x="291.5" y="12.5" textLength="49">ヤンマー</text><text class="p"><tspan x="344" y="3.4">大阪</tspan><tspan x="344" y="7.9">大阪</tspan><tspan x="344" y="12.4">大阪</tspan></text></g>
<g id="g54" transform="translate(0 526)"><use href="#rg"/><text class="k" x="372" y="12">54</text><text class="n"><tspan x="384" y="3.4">175</tspan><tspan x="384" y="7.9">176</tspan><tspan x="384" y="12.4">177</tspan></text><text class="t" x="291.5" y="3.5" textLength="49">椿本チエイン</text><text class="t" x="291.5" y="8" textLength="49">ダイハツ</text><text class="t" x="291.5" y="12.5" textLength="49">グンゼ</text><text class="p"><tspan x="344" y="3.4">大阪</tspan><tspan x="344" y="7.9">大阪</tspan><tspan x="344" y="12.4">京都</tspan></text></g>
<g id="g55" transform="translate(0 542)"><use href="#rg"/><text class="k" x="372" y="12">55</text><text class="n"><tspan x="384" y="3.4">178</tspan><tspan x="384" y="7.9">179</tspan><tspan x="384" y="12.4">180</tspan></text><text class="t" x="291.5" y="3.5" textLength="49">日東電工</text><text class="t" x="291.5" y="8" textLength="49">積水化学</text><text class="t" x="291.5" y="12.5" textLength="49">大和ハウス</text><text class="p"><tspan x="344" y="3.4">大阪</tspan><tspan x="344" y="7.9">大阪</tspan><tspan x="344" y="12.4">大阪</tspan></text></g>
<g id="e181" transform="translate(0 561)"><use href="#rs"/><text class="n" x="384" y="3.4">181</text><text class="t" x="291.5" y="3.5" textLength="49">日本エリス</text><text class="p" x="344" y="3.4">東京</text></g>
</g>

<text class="k" x="205" y="592" style="font-size:5px">1</text>
</svg>
